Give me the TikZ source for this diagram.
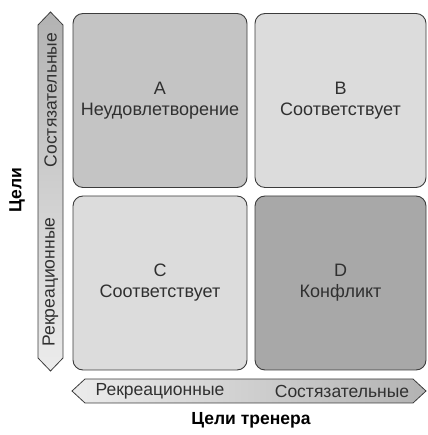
\documentclass[tikz,border=0pt]{standalone}
\usepackage{fontspec}
\setmainfont{Liberation Sans}
\usetikzlibrary{positioning}
\definecolor{rim}{HTML}{3C3C3C}
\definecolor{cellA}{HTML}{C4C4C4}
\definecolor{cellB}{HTML}{DCDCDC}
\definecolor{cellD}{HTML}{A8A8A8}
\definecolor{txt}{HTML}{303030}
\begin{document}
\begin{tikzpicture}[x=1pt,y=1pt,
    cell/.style={draw=rim,line width=0.9pt,rounded corners=10pt,minimum width=174pt,minimum height=174pt,align=center,font=\fontsize{18}{21}\selectfont,text=txt},
    band/.style={draw=rim,line width=0.8pt},
    bandtext/.style={font=\fontsize{17.5}{20}\selectfont,text=txt,inner sep=0pt},
    axistitle/.style={font=\bfseries\fontsize{17.5}{20}\selectfont,text=black}]
\useasboundingbox (0,0) rectangle (427,435);
% quadrants
\node[cell,fill=cellA] (qa) at (160,334.5) {A\\Неудовлетворение};
\node[cell,fill=cellB,minimum width=171pt] (qb) at (340.5,334.5) {B\\Соответствует};
\node[cell,fill=cellB] (qc) at (160,152) {C\\Соответствует};
\node[cell,fill=cellD,minimum width=171pt] (qd) at (340.5,152) {D\\Конфликт};
% vertical double arrow
\shade[band,top color=gray!60,bottom color=gray!15]
  (50.5,423) -- (63,410) -- (63,77) -- (50.5,64) -- (38,77) -- (38,410) -- cycle;
\node[bandtext,rotate=90] (vtop) at (50.5,335) {Состязательные};
\node[bandtext,rotate=90] (vbot) at (50.5,153) {Рекреационные};
% horizontal double arrow
\shade[band,left color=gray!15,right color=gray!60]
  (72,44) -- (85,56) -- (413,56) -- (426,44) -- (413,32) -- (85,32) -- cycle;
\node[bandtext] (hleft) at (160,44) {Рекреационные};
\node[bandtext] (hright) at (342,44) {Состязательные};
% axis titles
\node[axistitle,rotate=90] (ylab) at (17,245) {Цели};
\node[axistitle] (xlab) at (251,15) {Цели тренера};
\end{tikzpicture}
\end{document}
